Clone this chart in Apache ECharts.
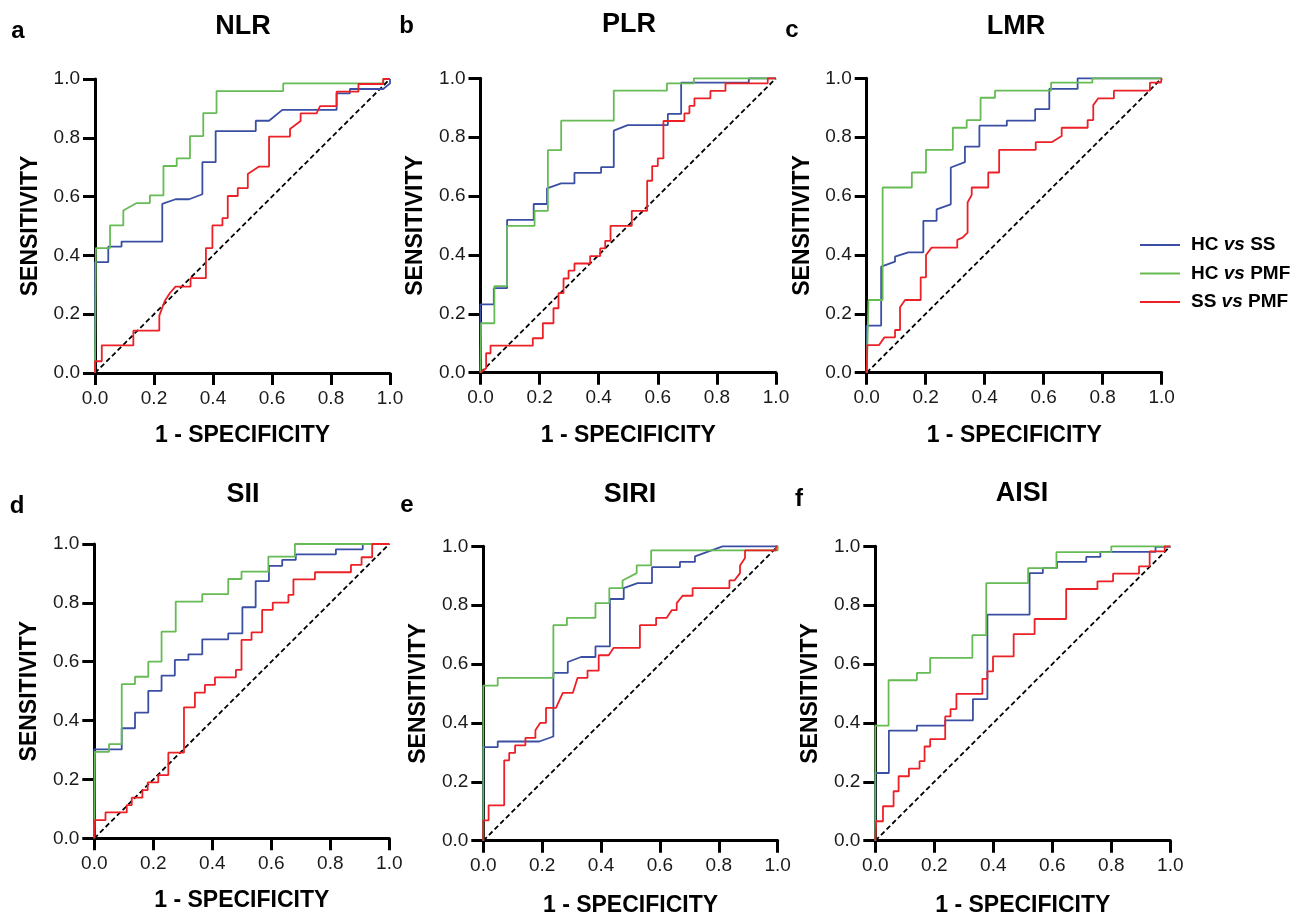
<!DOCTYPE html>
<html><head><meta charset="utf-8">
<script src="https://cdn.jsdelivr.net/npm/echarts@6/dist/echarts.min.js"></script>
<style>html,body{margin:0;padding:0;background:#fff}#c{width:1296px;height:919px}</style>
</head><body><div id="c"></div>
<script>
const panelTitles = ['NLR', 'PLR', 'LMR', 'SII', 'SIRI', 'AISI'];
const panelLetters = ['a', 'b', 'c', 'd', 'e', 'f'];
const seriesNames = ['HC vs SS', 'HC vs PMF', 'SS vs PMF'];
const xAxisName = '1 - SPECIFICITY';
const yAxisName = 'SENSITIVITY';
const referenceLine = [[0, 0], [1, 1]];

// ---- NLR ----
const nlrHcSs = [[0,0],[0,0.377],[0.045,0.377],[0.045,0.430],[0.090,0.430],[0.090,0.447],[0.228,0.447],[0.228,0.575],[0.273,0.591],[0.319,0.591],[0.364,0.608],[0.364,0.717],[0.409,0.717],[0.409,0.823],[0.545,0.823],[0.545,0.858],[0.590,0.858],[0.635,0.895],[0.819,0.895],[0.819,0.951],[0.864,0.951],[0.864,0.966],[0.977,0.966],[1,0.985],[1,1]];
const nlrHcPmf = [[0,0],[0.003,0.425],[0.051,0.425],[0.051,0.502],[0.096,0.502],[0.096,0.553],[0.141,0.578],[0.186,0.578],[0.186,0.604],[0.232,0.604],[0.232,0.704],[0.277,0.704],[0.277,0.730],[0.322,0.730],[0.322,0.806],[0.367,0.806],[0.367,0.884],[0.412,0.884],[0.412,0.959],[0.638,0.959],[0.638,0.985],[0.977,0.985],[0.977,1],[1,1]];
const nlrSsPmf = [[0,0],[0,0.040],[0.023,0.040],[0.023,0.094],[0.130,0.094],[0.130,0.144],[0.218,0.144],[0.218,0.195],[0.237,0.246],[0.254,0.272],[0.273,0.294],[0.324,0.294],[0.324,0.323],[0.376,0.323],[0.376,0.425],[0.398,0.425],[0.398,0.502],[0.432,0.502],[0.432,0.527],[0.450,0.527],[0.450,0.602],[0.484,0.602],[0.484,0.629],[0.518,0.629],[0.518,0.677],[0.556,0.702],[0.590,0.702],[0.590,0.804],[0.661,0.804],[0.661,0.830],[0.697,0.857],[0.697,0.883],[0.751,0.883],[0.763,0.908],[0.819,0.908],[0.819,0.957],[0.893,0.957],[0.893,0.983],[0.977,0.983],[0.977,1],[1,1]];

// ---- PLR ----
const plrHcSs = [[0,0],[0,0.232],[0.045,0.232],[0.045,0.287],[0.090,0.287],[0.090,0.519],[0.180,0.519],[0.180,0.573],[0.225,0.573],[0.225,0.626],[0.273,0.643],[0.318,0.643],[0.318,0.679],[0.408,0.679],[0.408,0.698],[0.451,0.698],[0.451,0.822],[0.498,0.841],[0.634,0.841],[0.634,0.879],[0.679,0.879],[0.679,0.985],[0.908,0.985],[0.908,1],[1,1]];
const plrHcPmf = [[0,0],[0.002,0.168],[0.047,0.168],[0.047,0.294],[0.090,0.294],[0.090,0.499],[0.183,0.499],[0.183,0.550],[0.228,0.550],[0.228,0.756],[0.273,0.756],[0.273,0.856],[0.451,0.856],[0.451,0.958],[0.631,0.958],[0.631,0.983],[0.722,0.983],[0.722,1],[1,1]];
const plrSsPmf = [[0,0],[0.019,0.015],[0.019,0.066],[0.034,0.066],[0.034,0.092],[0.177,0.092],[0.177,0.117],[0.211,0.117],[0.211,0.168],[0.247,0.168],[0.247,0.219],[0.264,0.219],[0.264,0.270],[0.281,0.270],[0.281,0.320],[0.298,0.320],[0.298,0.347],[0.318,0.347],[0.318,0.371],[0.371,0.371],[0.371,0.396],[0.405,0.396],[0.405,0.422],[0.422,0.422],[0.422,0.448],[0.440,0.448],[0.440,0.499],[0.512,0.499],[0.512,0.550],[0.564,0.550],[0.564,0.652],[0.581,0.652],[0.581,0.702],[0.600,0.702],[0.600,0.728],[0.619,0.728],[0.619,0.855],[0.690,0.855],[0.690,0.881],[0.707,0.881],[0.707,0.906],[0.724,0.906],[0.724,0.932],[0.778,0.932],[0.778,0.957],[0.829,0.957],[0.829,0.983],[0.972,0.983],[0.972,1],[1,1]];

// ---- LMR ----
const lmrHcSs = [[0,0],[0,0.160],[0.049,0.160],[0.049,0.360],[0.096,0.377],[0.096,0.394],[0.141,0.409],[0.192,0.409],[0.192,0.516],[0.237,0.516],[0.237,0.555],[0.285,0.572],[0.285,0.697],[0.333,0.715],[0.333,0.768],[0.382,0.768],[0.382,0.839],[0.475,0.839],[0.475,0.856],[0.571,0.856],[0.571,0.895],[0.619,0.895],[0.619,0.964],[0.715,0.964],[0.715,1],[1,1]];
const lmrHcPmf = [[0,0],[0.006,0.247],[0.054,0.247],[0.054,0.629],[0.153,0.629],[0.153,0.680],[0.201,0.680],[0.201,0.757],[0.292,0.757],[0.292,0.832],[0.339,0.832],[0.339,0.858],[0.386,0.858],[0.386,0.934],[0.435,0.934],[0.435,0.958],[0.625,0.958],[0.625,0.985],[0.765,0.985],[0.765,1],[1,1]];
const lmrSsPmf = [[0,0],[0.002,0.094],[0.042,0.094],[0.060,0.120],[0.096,0.120],[0.096,0.145],[0.113,0.145],[0.113,0.222],[0.130,0.247],[0.183,0.247],[0.183,0.324],[0.201,0.324],[0.201,0.400],[0.220,0.425],[0.307,0.425],[0.307,0.451],[0.325,0.459],[0.342,0.476],[0.342,0.578],[0.356,0.604],[0.356,0.629],[0.412,0.629],[0.412,0.680],[0.449,0.680],[0.449,0.757],[0.573,0.757],[0.573,0.783],[0.627,0.783],[0.661,0.804],[0.661,0.832],[0.749,0.832],[0.749,0.858],[0.768,0.858],[0.768,0.909],[0.785,0.932],[0.838,0.932],[0.838,0.958],[0.960,0.958],[0.960,0.985],[0.997,0.985],[1,1]];

// ---- SII ----
const siiHcSs = [[0,0],[0,0.302],[0.093,0.302],[0.093,0.374],[0.138,0.374],[0.138,0.427],[0.183,0.427],[0.183,0.501],[0.228,0.501],[0.228,0.553],[0.273,0.553],[0.273,0.606],[0.319,0.606],[0.319,0.625],[0.366,0.625],[0.366,0.676],[0.454,0.676],[0.454,0.696],[0.502,0.696],[0.502,0.785],[0.547,0.785],[0.547,0.874],[0.592,0.874],[0.592,0.926],[0.637,0.926],[0.637,0.946],[0.683,0.946],[0.683,0.965],[0.819,0.965],[0.819,0.982],[0.910,0.982],[0.910,1],[1,1]];
const siiHcPmf = [[0,0],[0.002,0.294],[0.050,0.294],[0.050,0.320],[0.093,0.320],[0.093,0.524],[0.138,0.524],[0.138,0.549],[0.183,0.549],[0.183,0.600],[0.228,0.600],[0.228,0.702],[0.276,0.702],[0.276,0.804],[0.366,0.804],[0.366,0.830],[0.454,0.830],[0.454,0.881],[0.499,0.881],[0.499,0.906],[0.590,0.906],[0.590,0.957],[0.680,0.957],[0.680,1],[1,1]];
const siiSsPmf = [[0,0],[0.002,0.062],[0.038,0.062],[0.038,0.088],[0.110,0.088],[0.110,0.113],[0.127,0.113],[0.127,0.138],[0.163,0.138],[0.163,0.164],[0.181,0.164],[0.181,0.190],[0.217,0.190],[0.217,0.215],[0.251,0.215],[0.251,0.291],[0.304,0.291],[0.304,0.445],[0.341,0.445],[0.341,0.495],[0.375,0.495],[0.375,0.521],[0.409,0.521],[0.409,0.547],[0.480,0.547],[0.480,0.572],[0.499,0.572],[0.499,0.674],[0.533,0.674],[0.533,0.700],[0.569,0.700],[0.569,0.776],[0.605,0.776],[0.605,0.801],[0.658,0.801],[0.658,0.827],[0.675,0.827],[0.675,0.880],[0.748,0.880],[0.748,0.904],[0.870,0.904],[0.870,0.929],[0.906,0.929],[0.906,0.955],[0.942,0.955],[0.942,1],[1,1]];

// ---- SIRI ----
const siriHcSs = [[0,0],[0,0.318],[0.049,0.318],[0.049,0.337],[0.190,0.337],[0.238,0.354],[0.238,0.570],[0.287,0.570],[0.287,0.607],[0.332,0.624],[0.381,0.624],[0.381,0.660],[0.430,0.660],[0.430,0.821],[0.477,0.821],[0.477,0.858],[0.524,0.875],[0.573,0.875],[0.573,0.929],[0.668,0.929],[0.668,0.947],[0.719,0.947],[0.719,0.966],[0.813,1],[1,1]];
const siriHcPmf = [[0,0],[0,0.527],[0.049,0.527],[0.049,0.553],[0.238,0.553],[0.238,0.732],[0.284,0.732],[0.284,0.757],[0.381,0.757],[0.381,0.807],[0.428,0.807],[0.428,0.858],[0.473,0.858],[0.473,0.884],[0.521,0.909],[0.521,0.935],[0.570,0.935],[0.570,0.986],[1,0.986],[1,1]];
const siriSsPmf = [[0,0],[0,0.069],[0.018,0.069],[0.018,0.120],[0.071,0.120],[0.071,0.273],[0.088,0.273],[0.088,0.298],[0.108,0.298],[0.108,0.324],[0.143,0.324],[0.143,0.349],[0.177,0.349],[0.177,0.375],[0.193,0.400],[0.213,0.400],[0.213,0.451],[0.247,0.451],[0.270,0.502],[0.304,0.502],[0.320,0.553],[0.354,0.553],[0.354,0.578],[0.392,0.578],[0.392,0.630],[0.426,0.630],[0.443,0.655],[0.532,0.655],[0.532,0.732],[0.587,0.732],[0.587,0.757],[0.623,0.757],[0.640,0.783],[0.657,0.783],[0.657,0.807],[0.677,0.832],[0.711,0.832],[0.711,0.858],[0.836,0.858],[0.836,0.884],[0.853,0.884],[0.872,0.909],[0.872,0.935],[0.889,0.960],[0.889,0.986],[0.994,0.986],[0.994,1],[1,1]];

// ---- AISI ----
const aisiHcSs = [[0,0],[0,0.230],[0.046,0.230],[0.046,0.374],[0.141,0.374],[0.141,0.391],[0.237,0.391],[0.237,0.409],[0.331,0.409],[0.331,0.481],[0.380,0.481],[0.380,0.768],[0.523,0.768],[0.523,0.909],[0.568,0.909],[0.568,0.926],[0.616,0.926],[0.616,0.947],[0.715,0.947],[0.715,0.964],[0.763,0.964],[0.763,0.981],[0.950,0.981],[0.950,0.998],[1,0.998],[1,1]];
const aisiHcPmf = [[0,0],[0,0.391],[0.045,0.391],[0.045,0.545],[0.141,0.545],[0.141,0.570],[0.186,0.570],[0.186,0.621],[0.329,0.621],[0.329,0.698],[0.376,0.698],[0.376,0.875],[0.518,0.875],[0.518,0.926],[0.614,0.926],[0.614,0.980],[0.800,0.980],[0.800,1],[1,1]];
const aisiSsPmf = [[0,0],[0.003,0.066],[0.026,0.066],[0.026,0.117],[0.062,0.117],[0.062,0.168],[0.079,0.168],[0.079,0.219],[0.114,0.219],[0.114,0.245],[0.150,0.245],[0.150,0.270],[0.167,0.270],[0.167,0.320],[0.186,0.320],[0.186,0.345],[0.237,0.345],[0.237,0.422],[0.255,0.422],[0.255,0.447],[0.275,0.447],[0.275,0.499],[0.363,0.499],[0.363,0.550],[0.380,0.550],[0.380,0.575],[0.399,0.575],[0.399,0.626],[0.469,0.626],[0.469,0.702],[0.540,0.702],[0.540,0.753],[0.647,0.753],[0.647,0.855],[0.753,0.855],[0.753,0.881],[0.806,0.881],[0.806,0.907],[0.894,0.907],[0.894,0.932],[0.930,0.932],[0.930,0.983],[0.981,0.983],[0.981,1],[1,1]];

const panelData = [
  [nlrHcSs, nlrHcPmf, nlrSsPmf],
  [plrHcSs, plrHcPmf, plrSsPmf],
  [lmrHcSs, lmrHcPmf, lmrSsPmf],
  [siiHcSs, siiHcPmf, siiSsPmf],
  [siriHcSs, siriHcPmf, siriSsPmf],
  [aisiHcSs, aisiHcPmf, aisiSsPmf]
];

// ---- layout (pixels) ----
const gridBoxes = [
  {left: 95, top: 79, width: 295, height: 294},
  {left: 480.5, top: 78.3, width: 295.5, height: 294.4},
  {left: 866.7, top: 78.3, width: 295, height: 294.4},
  {left: 94.3, top: 544, width: 295, height: 294.3},
  {left: 483.3, top: 546.3, width: 294.4, height: 294.4},
  {left: 875.3, top: 546.3, width: 295, height: 294.4}
];
const titlePos = [[243, 27], [629, 24.7], [1016, 27], [243, 495], [630, 495], [1022, 493.3]];
const letterPos = [[18, 31], [406.5, 26], [792, 30], [17, 506], [407, 505.5], [799, 499]];
const colors = ['#3a4fa3', '#66bb55', '#ec2027'];
const FONT = '"Liberation Sans", Arial, sans-serif';

const grid = [], xAxis = [], yAxis = [], series = [], graphic = [];
gridBoxes.forEach((g, i) => {
  grid.push(Object.assign({containLabel: false}, g));
  const axisCommon = {
    type: 'value', min: 0, max: 1, interval: 0.2, gridIndex: i,
    splitLine: {show: false},
    axisLine: {show: true, lineStyle: {color: '#000', width: 3}},
    axisTick: {show: true, length: 12, lineStyle: {color: '#000', width: 3}},
    nameLocation: 'middle',
    nameTextStyle: {fontFamily: FONT, fontWeight: 'bold', fontSize: 23, color: '#000'}
  };
  xAxis.push(Object.assign({}, axisCommon, {
    name: xAxisName, nameGap: i >= 4 ? 53 : 51,
    axisLabel: {margin: 16, fontFamily: FONT, fontSize: 19, color: '#1a1a1a', formatter: v => v.toFixed(1)}
  }));
  yAxis.push(Object.assign({}, axisCommon, {
    name: yAxisName, nameGap: 53,
    axisLabel: {margin: 15, fontFamily: FONT, fontSize: 19, color: '#1a1a1a', formatter: v => v.toFixed(1)}
  }));
  series.push({
    type: 'line', name: 'ref', xAxisIndex: i, yAxisIndex: i, data: referenceLine,
    symbol: 'none', silent: true, clip: false, z: 1,
    lineStyle: {color: '#000', width: 1.8, type: [5, 3]}
  });
  panelData[i].forEach((d, k) => {
    series.push({
      type: 'line', name: seriesNames[k], xAxisIndex: i, yAxisIndex: i, data: d,
      symbol: 'none', clip: false, z: 2 + k,
      lineStyle: {color: colors[k], width: 1.8}, itemStyle: {color: colors[k]}
    });
  });
  graphic.push({type: 'text', x: titlePos[i][0], y: titlePos[i][1],
    style: {text: panelTitles[i], font: 'bold 27px ' + FONT, fill: '#000', align: 'center', verticalAlign: 'middle'}});
  graphic.push({type: 'text', x: letterPos[i][0], y: letterPos[i][1],
    style: {text: panelLetters[i], font: 'bold 24px ' + FONT, fill: '#000', align: 'center', verticalAlign: 'middle'}});
});

const chart = echarts.init(document.getElementById('c'), null, {renderer: 'canvas'});
chart.setOption({
  animation: false,
  backgroundColor: '#fff',
  grid, xAxis, yAxis, series, graphic,
  legend: {
    data: seriesNames, orient: 'vertical', left: 1135, top: 230,
    icon: 'rect', itemWidth: 40, itemHeight: 2, itemGap: 8.5,
    formatter: n => n.replace(' vs ', ' {i|vs} '),
    textStyle: {fontFamily: FONT, fontWeight: 'bold', fontSize: 19, color: '#000', lineHeight: 20, padding: [0, 0, 0, 6],
      rich: {i: {fontFamily: FONT, fontWeight: 'bold', fontStyle: 'italic', fontSize: 19, color: '#000', lineHeight: 20}}}
  }
});
</script></body></html>
